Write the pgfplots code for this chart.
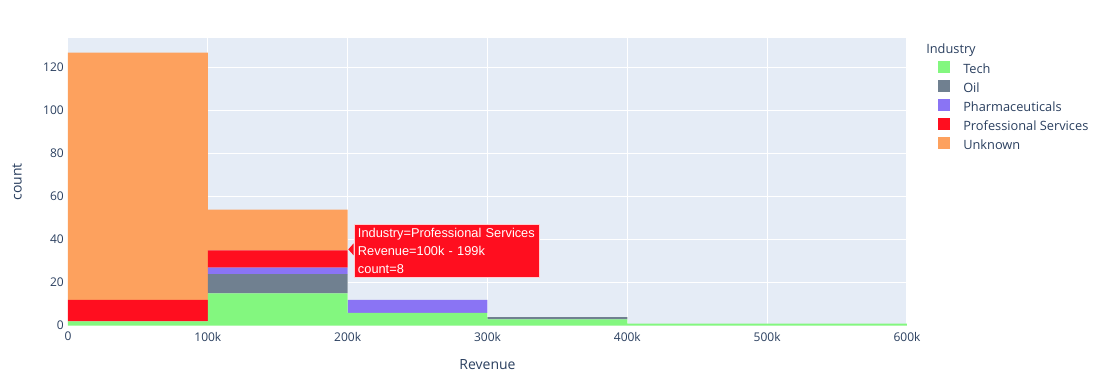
\documentclass[border=0pt]{standalone}
\usepackage{fontspec}
\setmainfont{Open Sans}
\newfontfamily\hoverfont{Liberation Sans}
\usepackage{pgfplots}
\pgfplotsset{compat=1.18}
\definecolor{techc}{HTML}{83F77F}
\definecolor{oilc}{HTML}{708090}
\definecolor{pharmc}{HTML}{8A74F4}
\definecolor{profc}{HTML}{FF0E1F}
\definecolor{unkc}{HTML}{FDA15E}
\definecolor{bgc}{HTML}{E5ECF6}
\definecolor{txtc}{HTML}{2A3F5F}
\pgfplotsset{sq/.style={legend image code/.code={\fill[##1] (0pt,-2pt) rectangle (9pt,7pt); \path (18pt,0pt);}}}
\begin{document}
\begin{tikzpicture}
\useasboundingbox (0,0) rectangle (836.25pt,290.25pt);
\begin{axis}[
  at={(51pt,45.975pt)}, anchor=south west,
  scale only axis, width=629.25pt, height=215.775pt,
  xmin=0, xmax=600, ymin=0, ymax=133.8,
  axis background/.style={fill=bgc},
  axis line style={draw=none},
  major tick length=0pt,
  grid=major, grid style={white, line width=0.75pt},
  xtick={0,100,200,300,400,500,600},
  xticklabels={0,100k,200k,300k,400k,500k,600k},
  ytick={0,20,40,60,80,100,120},
  /pgf/number format/assume math mode=true,
  tick label style={font=\fontsize{9}{11}\selectfont, text=txtc},
  yticklabel style={inner sep=0pt, xshift=-3pt},
  xticklabel style={inner sep=0pt, yshift=-4.7pt},
  xlabel={Revenue}, ylabel={count},
  label style={font=\fontsize{10.5}{12}\selectfont, text=txtc},
  xlabel style={at={(axis description cs:0.5,0)}, anchor=center, yshift=-29.5pt},
  ylabel style={at={(axis description cs:0,0.5)}, anchor=center, xshift=0pt, yshift=38.25pt},
  ybar stacked, bar width=100, bar shift=0pt,
  every axis plot/.append style={draw=none},
  legend style={at={(axis description cs:1,1)}, anchor=north west, xshift=23pt, yshift=-17pt,
    draw=none, fill=none, inner sep=0pt, font=\fontsize{9.6}{11}\selectfont, text=txtc,
    nodes={inner sep=1pt, text height=7pt, text depth=2pt, anchor=west}, row sep=1.75pt},
  legend cell align=left,
  clip=false,
]
\addplot[fill=techc, sq] coordinates {(50,2) (150,15) (250,6) (350,3) (450,1) (550,1)};
\addplot[fill=oilc, sq] coordinates {(50,0) (150,9) (250,0) (350,1) (450,0) (550,0)};
\addplot[fill=pharmc, sq] coordinates {(50,0) (150,3) (250,6) (350,0) (450,0) (550,0)};
\addplot[fill=profc, sq] coordinates {(50,10) (150,8) (250,0) (350,0) (450,0) (550,0)};
\addplot[fill=unkc, sq] coordinates {(50,115) (150,19) (250,0) (350,0) (450,0) (550,0)};
\legend{Tech,Oil,Pharmaceuticals,Professional Services,Unknown}
\node[anchor=west, inner sep=0pt, text=txtc, font=\fontsize{9.6}{11}\selectfont] at ([xshift=14.25pt, yshift=-9pt]axis description cs:1,1) {Industry};
\fill[profc] (axis cs:200,35.5) ++(0.5pt,0) -- ++(4pt,4.5pt) -- ++(0,-9pt) -- cycle;
\node[fill=profc, draw=white!80!profc, line width=0.5pt, anchor=west, text=white, inner xsep=3pt, inner ysep=0pt,
  text width=132.75pt, minimum height=39.75pt, align=left,
  font=\hoverfont\fontsize{9.6}{13.5}\selectfont] at ([xshift=4.5pt, yshift=-0.9pt]axis cs:200,35.5)
  {\mbox{Industry=Professional Services}\\\mbox{Revenue=100k - 199k}\\\mbox{count=8}};
\end{axis}
\end{tikzpicture}
\end{document}
